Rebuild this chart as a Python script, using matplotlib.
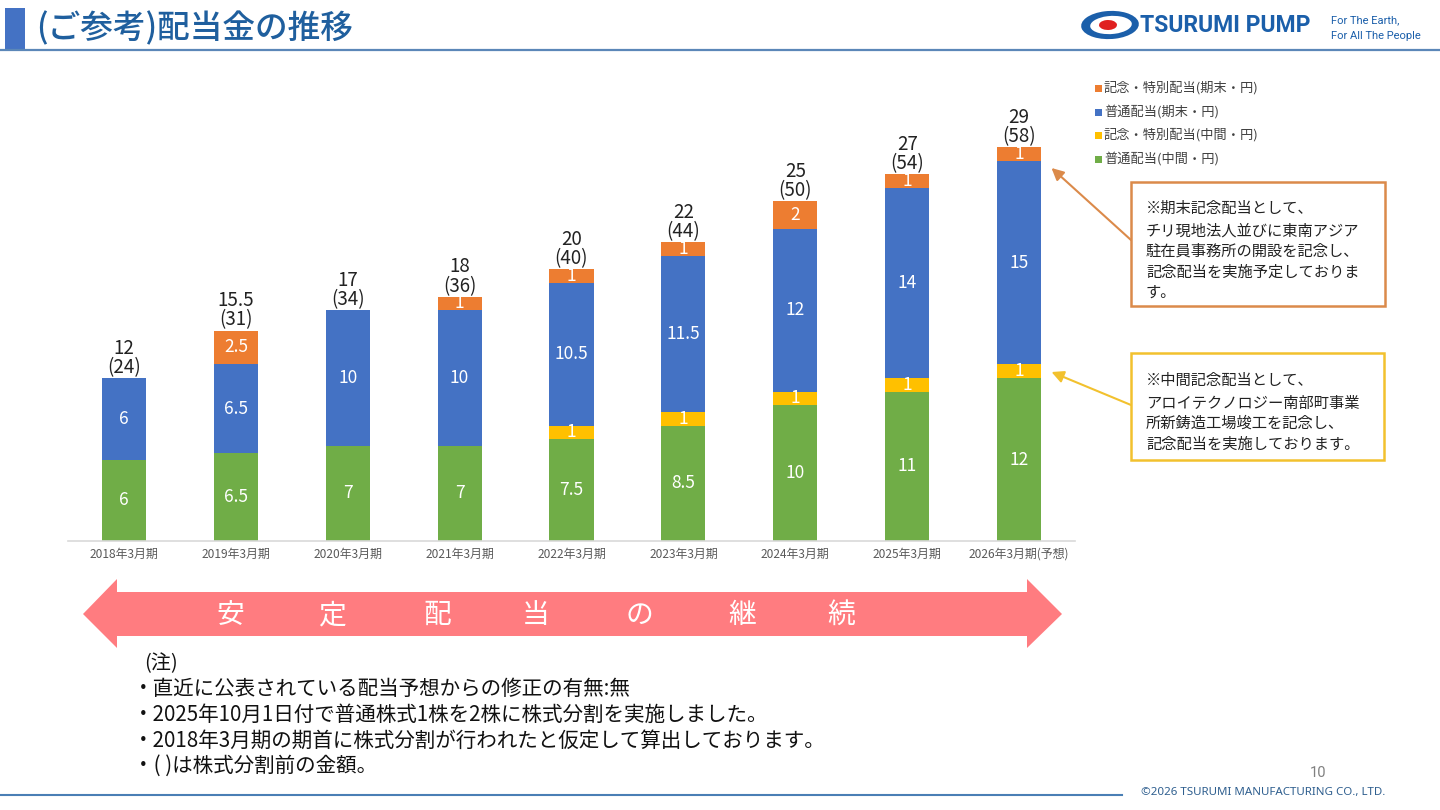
import matplotlib
matplotlib.use("Agg")
import matplotlib.pyplot as plt
from matplotlib.patches import Rectangle, Polygon, Ellipse
import numpy as np

plt.rcParams['font.family'] = ['Noto Sans CJK JP', 'DejaVu Sans']

# ---------------- data ----------------
categories = ['2018年3月期', '2019年3月期', '2020年3月期', '2021年3月期', '2022年3月期',
              '2023年3月期', '2024年3月期', '2025年3月期', '2026年3月期(予想)']
normal_interim = [6, 6.5, 7, 7, 7.5, 8.5, 10, 11, 12]
special_interim = [0, 0, 0, 0, 1, 1, 1, 1, 1]
normal_yearend = [6, 6.5, 10, 10, 10.5, 11.5, 12, 14, 15]
special_yearend = [0, 2.5, 0, 1, 1, 1, 2, 1, 1]
totals = ['12', '15.5', '17', '18', '20', '22', '25', '27', '29']
totals_presplit = ['(24)', '(31)', '(34)', '(36)', '(40)', '(44)', '(50)', '(54)', '(58)']
series_names = ['普通配当(中間・円)', '記念・特別配当(中間・円)', '普通配当(期末・円)', '記念・特別配当(期末・円)']
colors = ['#70AD47', '#FFC000', '#4472C4', '#ED7D31']

W, H = 1440, 810
fig = plt.figure(figsize=(W / 100, H / 100), dpi=100)
fig.patch.set_facecolor('white')


def fx(x):
    return x / W


def fy(y):
    return 1 - y / H


# ---------------- axes ----------------
ymax = 32
ax_left, ax_right, ax_bottom_px = 68, 1075, 541
px_per_unit = 13.58
ax_top_px = ax_bottom_px - ymax * px_per_unit
ax = fig.add_axes([fx(ax_left), fy(ax_bottom_px), (ax_right - ax_left) / W,
                   (ax_bottom_px - ax_top_px) / H])
ax.set_xlim(-0.5, len(categories) - 0.5)
ax.set_ylim(0, ymax)
x = np.arange(len(categories))
bw = 0.395
stack = [normal_interim, special_interim, normal_yearend, special_yearend]
bottom = np.zeros(len(categories))
for vals, col in zip(stack, colors):
    vals = np.array(vals, dtype=float)
    ax.bar(x, vals, bw, bottom=bottom, color=col, linewidth=0, zorder=2)
    for xi, v, b in zip(x, vals, bottom):
        if v > 0:
            lab = ('%g' % v)
            ax.text(xi, b + v / 2, lab, ha='center', va='center', color='white',
                    fontsize=12.5, zorder=3)
    bottom = bottom + vals

for xi, tot, t, tp in zip(x, bottom, totals, totals_presplit):
    ax.annotate(tp, (xi, tot), xytext=(0, 7.5), textcoords='offset points',
                ha='center', va='center', fontsize=13.5, color='#222222')
    ax.annotate(t, (xi, tot), xytext=(0, 21.5), textcoords='offset points',
                ha='center', va='center', fontsize=13.5, color='#222222')

ax.set_xticks(x)
ax.set_xticklabels(categories, fontsize=8.6, color='#595959')
ax.tick_params(axis='x', length=0, pad=5)
ax.set_yticks([])
for s in ['left', 'right', 'top']:
    ax.spines[s].set_visible(False)
ax.spines['bottom'].set_color('#D9D9D9')
ax.spines['bottom'].set_linewidth(1.2)

# ---------------- header ----------------
fig.patches.append(Rectangle((fx(5), fy(49)), fx(20), 41 / H, transform=fig.transFigure,
                             facecolor='#4472C4', edgecolor='none'))
fig.add_artist(plt.Line2D([0, 1], [fy(49.5), fy(49.5)], transform=fig.transFigure,
                          color='#5B87B8', lw=1.6))
fig.text(fx(36), fy(29), '(ご参考)配当金の推移', fontsize=23.5, color='#1F5F9E',
         ha='left', va='center', fontweight='medium')

# logo
fig.patches.append(Ellipse((fx(1110), fy(25)), 58 / W, 28 / H, angle=12,
                           transform=fig.transFigure, facecolor='#1B5FAA', edgecolor='none'))
fig.patches.append(Ellipse((fx(1111), fy(25)), 42 / W, 18 / H, angle=12,
                           transform=fig.transFigure, facecolor='white', edgecolor='none'))
fig.patches.append(Ellipse((fx(1108), fy(25)), 18 / W, 10 / H, angle=12,
                           transform=fig.transFigure, facecolor='#E02020', edgecolor='none'))
fig.text(fx(1140), fy(26), 'TSURUMI PUMP', fontsize=16.5, color='#1B5FAA', fontweight='bold',
         ha='left', va='center', family=['Roboto', 'DejaVu Sans'])
fig.text(fx(1331), fy(20), 'For The Earth,', fontsize=8, color='#1B5FAA',
         ha='left', va='center', family=['Roboto', 'DejaVu Sans'])
fig.text(fx(1331), fy(36), 'For All The People', fontsize=8, color='#1B5FAA',
         ha='left', va='center', family=['Roboto', 'DejaVu Sans'])

# ---------------- legend (manual) ----------------
leg_y = [159, 135, 112, 88]
for name, col, yy in zip(series_names, colors, leg_y):
    fig.patches.append(Rectangle((fx(1095), fy(yy + 3.5)), 7 / W, 7 / H,
                                 transform=fig.transFigure, facecolor=col, edgecolor='none'))
    fig.text(fx(1104), fy(yy), name, fontsize=9.5, color='#404040', ha='left', va='center')

# ---------------- annotation boxes ----------------
fig.patches.append(Rectangle((fx(1131), fy(306)), 254 / W, 124 / H, transform=fig.transFigure,
                             facecolor='white', edgecolor='#DB8A4A', lw=1.8))
box1 = ['※期末記念配当として、', 'チリ現地法人並びに東南アジア', '駐在員事務所の開設を記念し、',
        '記念配当を実施予定しておりま', 'す。']
for i, line in enumerate(box1):
    yy = 208 if i == 0 else 231 + (i - 1) * 20.5
    fig.text(fx(1146), fy(yy), line, fontsize=11, color='#222222', ha='left', va='center')

fig.patches.append(Rectangle((fx(1131), fy(460)), 253 / W, 107 / H, transform=fig.transFigure,
                             facecolor='white', edgecolor='#F2C12E', lw=1.8))
box2 = ['※中間記念配当として、', 'アロイテクノロジー南部町事業', '所新鋳造工場竣工を記念し、',
        '記念配当を実施しております。']
for i, line in enumerate(box2):
    yy = 380 if i == 0 else 403 + (i - 1) * 20.5
    fig.text(fx(1146), fy(yy), line, fontsize=11, color='#222222', ha='left', va='center')

ax.annotate('', xy=(8.29, (ax_bottom_px - 168) / px_per_unit), xycoords='data',
            xytext=(1131, H - 240), textcoords='figure pixels',
            arrowprops=dict(arrowstyle='-|>', color='#DB8A4A', lw=1.5,
                            mutation_scale=18, shrinkA=0, shrinkB=0), annotation_clip=False)
ax.annotate('', xy=(8.29, (ax_bottom_px - 372) / px_per_unit), xycoords='data',
            xytext=(1131, H - 405), textcoords='figure pixels',
            arrowprops=dict(arrowstyle='-|>', color='#F2C12E', lw=1.5,
                            mutation_scale=18, shrinkA=0, shrinkB=0), annotation_clip=False)

# ---------------- big double arrow ----------------
arr_px = [(83, 614), (117, 579), (117, 592), (1027, 592), (1027, 579), (1062, 614),
          (1027, 648), (1027, 636), (117, 636), (117, 648)]
fig.patches.append(Polygon([(fx(a), fy(b)) for a, b in arr_px], closed=True,
                           transform=fig.transFigure, facecolor='#FF7C80', edgecolor='none'))
arrow_chars = ['安', '定', '配', '当', 'の', '継', '続']
arrow_x = [230, 332, 437, 536, 639, 742, 841]
for ch, xx in zip(arrow_chars, arrow_x):
    fig.text(fx(xx), fy(615), ch, fontsize=20, color='white', ha='center', va='center')

# ---------------- notes ----------------
fig.text(fx(144), fy(664), '(注)', fontsize=14.5, color='#111111', ha='left', va='center')
notes = ['・直近に公表されている配当予想からの修正の有無:無',
         '・2025年10月1日付で普通株式1株を2株に株式分割を実施しました。',
         '・2018年3月期の期首に株式分割が行われたと仮定して算出しております。',
         '・( )は株式分割前の金額。']
for i, line in enumerate(notes):
    fig.text(fx(133), fy(689 + i * 25.7), line, fontsize=14.8, color='#111111',
             ha='left', va='center')

# ---------------- footer ----------------
fig.add_artist(plt.Line2D([0, fx(1122)], [fy(795), fy(795)], transform=fig.transFigure,
                          color='#4A7FB5', lw=1.5))
fig.text(fx(1318), fy(773), '10', fontsize=10.5, color='#808080', ha='center', va='center',
         family=['Roboto', 'DejaVu Sans'])
fig.text(fx(1141), fy(793), '©2026 TSURUMI MANUFACTURING CO., LTD.', fontsize=8.3,
         color='#2F5F8F', ha='left', va='center', family=['Noto Sans', 'DejaVu Sans'])

fig.savefig('out.png', dpi=100)
